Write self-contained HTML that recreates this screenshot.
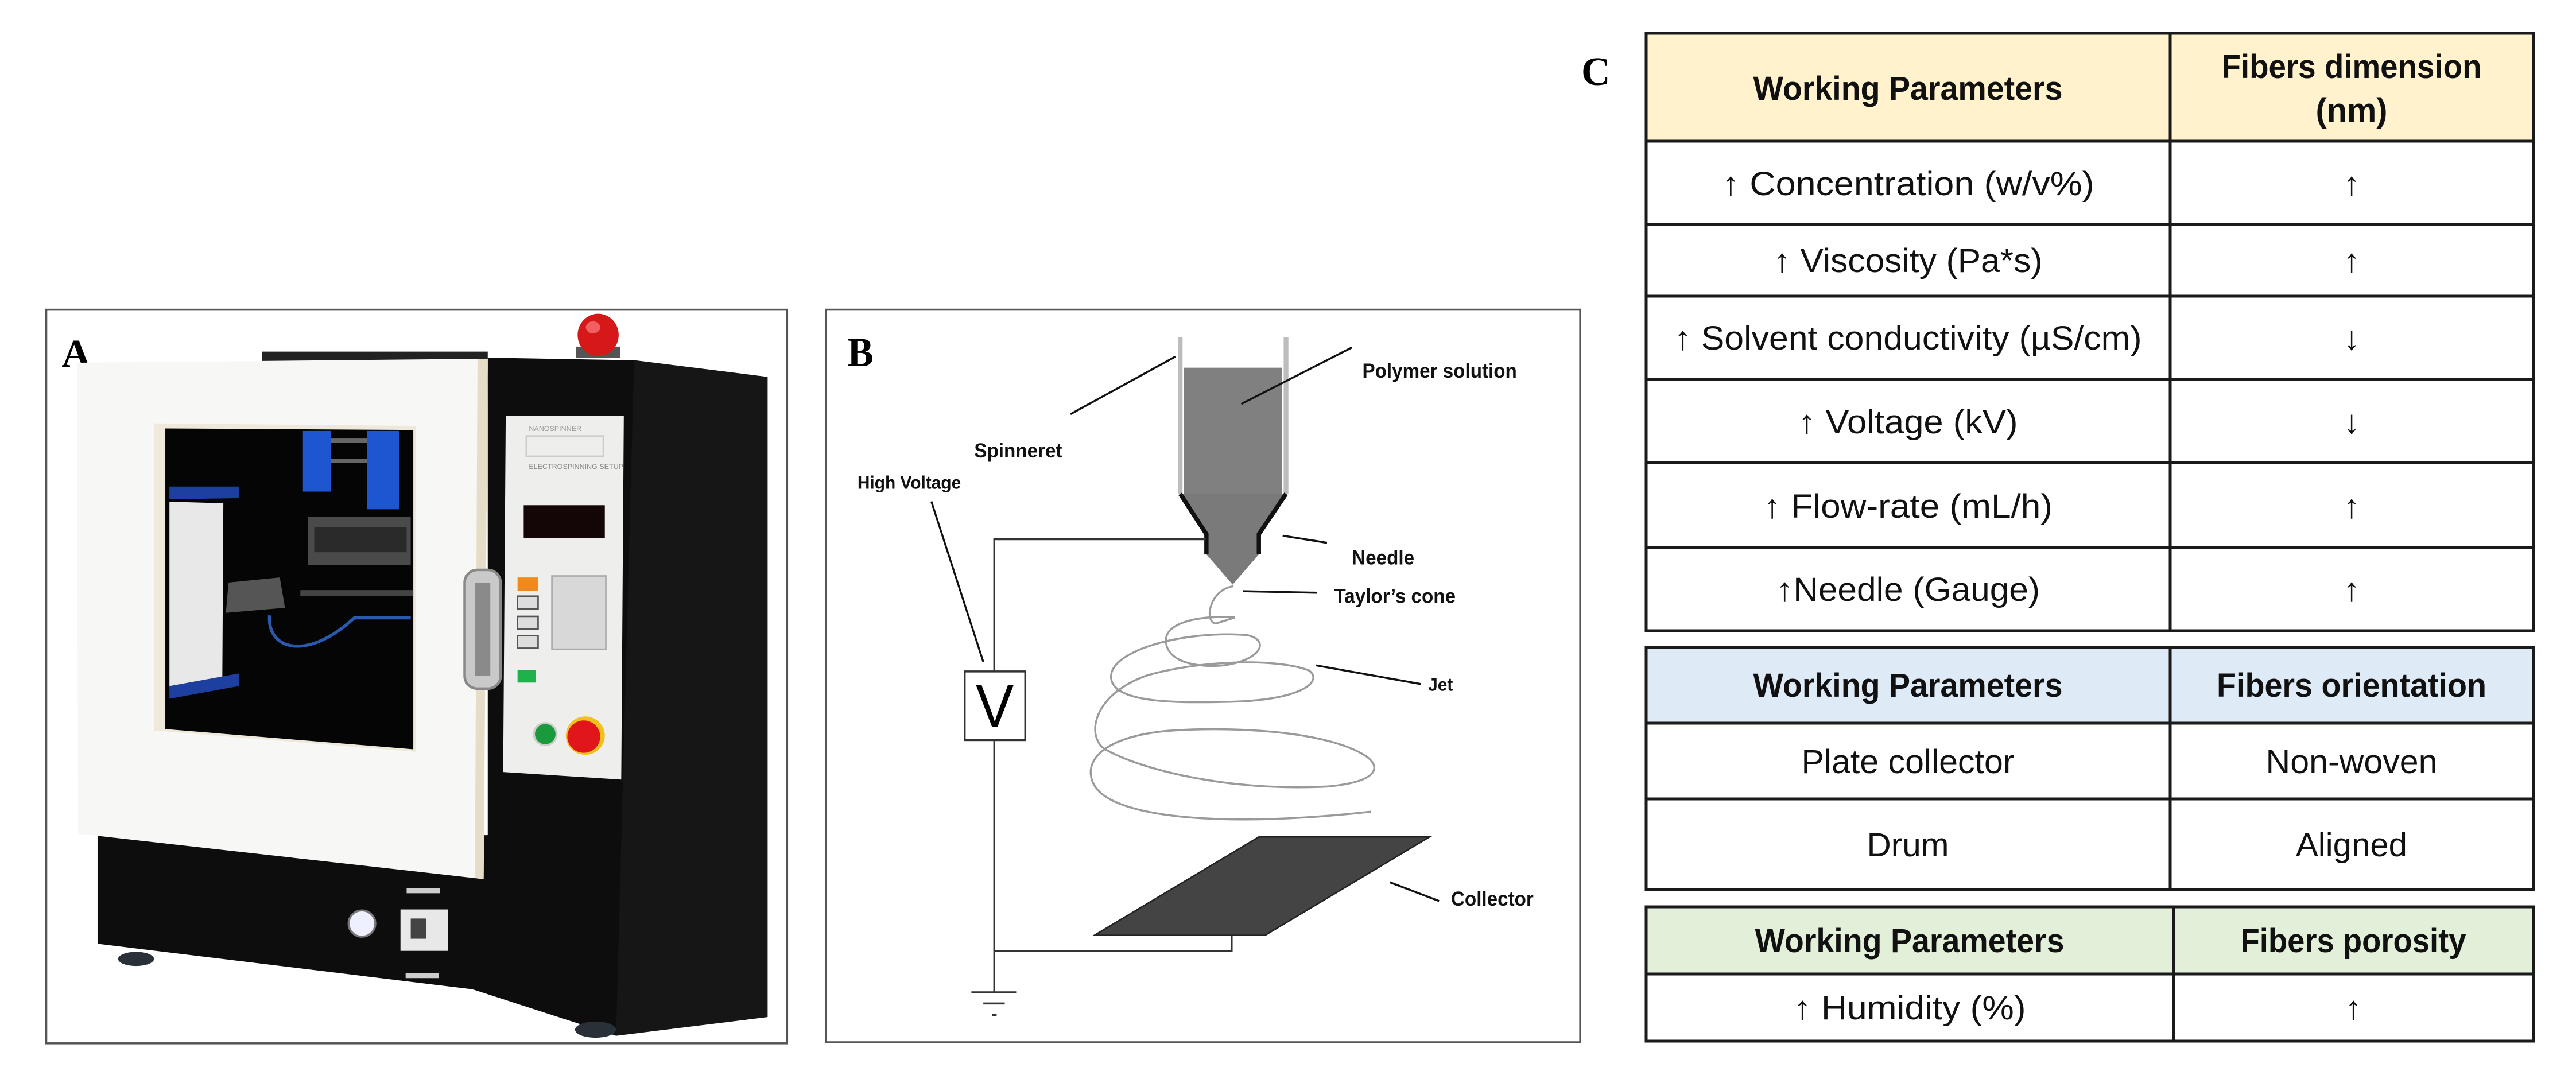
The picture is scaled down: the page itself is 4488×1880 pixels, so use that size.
<!DOCTYPE html>
<html><head><meta charset="utf-8"><style>
html,body{margin:0;padding:0;background:#fff;}
svg{display:block;}
</style></head><body>
<svg width="4488" height="1880" viewBox="0 0 4488 1880" xmlns="http://www.w3.org/2000/svg">
<rect width="4488" height="1880" fill="#fff"/>

<!-- Panel A -->
<g transform="translate(0,500) scale(0.8945,0.8803)">
  <rect x="90" y="45" width="1443" height="1452" fill="#fff" stroke="#555" stroke-width="4"/>
  <text x="120" y="158" font-family="Liberation Serif, serif" font-weight="bold" font-size="78">A</text>
  <polygon points="510,128 950,128 950,152 510,152" fill="#222"/>
  <rect x="1122" y="118" width="86" height="22" fill="#555"/>
  <ellipse cx="1165" cy="95" rx="40" ry="42" fill="#d61818"/>
  <ellipse cx="1155" cy="80" rx="14" ry="12" fill="#f06060"/>
  <polygon points="950,140 1235,145 1495,178 1495,1445 1200,1482 920,1390 190,1300 190,1085 950,1085" fill="#0d0d0d"/>
  <polygon points="1235,145 1495,178 1495,1445 1200,1482" fill="#161616"/>
  <ellipse cx="265" cy="1330" rx="35" ry="14" fill="#2a3038"/>
  <ellipse cx="1160" cy="1470" rx="40" ry="16" fill="#2a3038"/>
  <polygon points="150,150 950,142 942,1172 152,1082" fill="#f7f7f5"/>
  <polygon points="930,142 950,142 942,1172 925,1168" fill="#e6ddc8"/>
  <polygon points="300,270 810,275 810,920 300,878" fill="#efe9dc"/>
  <polygon points="322,280 805,283 805,915 322,875" fill="#050505"/>
  <polygon points="330,425 435,428 433,775 330,790" fill="#e8e8e8"/>
  <polygon points="330,395 465,395 465,418 330,420" fill="#1d3fa0"/>
  <polygon points="330,790 465,765 465,790 330,815" fill="#1d3fa0"/>
  <rect x="590" y="285" width="55" height="120" fill="#1e55d0"/>
  <rect x="715" y="285" width="62" height="155" fill="#1e55d0"/>
  <rect x="645" y="300" width="70" height="8" fill="#666"/>
  <rect x="645" y="340" width="70" height="8" fill="#666"/>
  <rect x="600" y="455" width="200" height="95" fill="#4a4a4a"/>
  <rect x="612" y="475" width="180" height="50" fill="#2a2a2a"/>
  <polygon points="445,585 545,575 555,635 440,645" fill="#555"/>
  <rect x="585" y="600" width="220" height="12" fill="#444"/>
  <path d="M525,650 C520,720 600,740 690,655 L800,655" stroke="#2a5ab0" stroke-width="6" fill="none"/>
  <rect x="905" y="560" width="70" height="235" rx="25" fill="#c9c9c9" stroke="#888" stroke-width="5"/>
  <rect x="925" y="585" width="30" height="185" fill="#8a8a8a"/>
  <polygon points="985,255 1215,255 1210,975 980,960" fill="#eeeeec"/>
  <text x="1030" y="285" font-family="Liberation Sans, sans-serif" font-size="14" fill="#999">NANOSPINNER</text>
  <rect x="1025" y="295" width="150" height="40" fill="none" stroke="#ccc" stroke-width="3"/>
  <text x="1030" y="360" font-family="Liberation Sans, sans-serif" font-size="14" fill="#888">ELECTROSPINNING SETUP</text>
  <rect x="1020" y="432" width="158" height="65" fill="#140606"/>
  <rect x="1008" y="575" width="40" height="27" fill="#f08a1c"/>
  <rect x="1008" y="612" width="40" height="25" fill="#ddd" stroke="#555" stroke-width="3"/>
  <rect x="1008" y="652" width="40" height="25" fill="#ddd" stroke="#555" stroke-width="3"/>
  <rect x="1008" y="690" width="40" height="25" fill="#ddd" stroke="#555" stroke-width="3"/>
  <rect x="1075" y="572" width="105" height="145" fill="#d8d8d8" stroke="#aaa" stroke-width="3"/>
  <rect x="1008" y="758" width="36" height="25" fill="#1fb24a"/>
  <circle cx="1062" cy="885" r="22" fill="#1a9a3c" stroke="#ccc" stroke-width="4"/>
  <circle cx="1140" cy="888" r="38" fill="#f2c21b"/>
  <circle cx="1137" cy="890" r="32" fill="#e0161b"/>
  <circle cx="705" cy="1260" r="26" fill="#eef0ff" stroke="#777" stroke-width="4"/>
  <rect x="780" y="1232" width="92" height="82" fill="#e8e8e8"/>
  <rect x="800" y="1250" width="30" height="40" fill="#444"/>
  <rect x="792" y="1190" width="65" height="10" fill="#ccc"/>
  <rect x="790" y="1358" width="65" height="10" fill="#ccc"/>
</g>

<!-- Panel B -->
<g transform="translate(1400,500) scale(0.8306,0.8791)">
  <rect x="47" y="45" width="1582" height="1452" fill="#fff" stroke="#555" stroke-width="4"/>
  <text x="92" y="157" font-family="Liberation Serif, serif" font-weight="bold" font-size="82">B</text>
  <rect x="798" y="160" width="206" height="252" fill="#808080"/>
  <line x1="790" y1="100" x2="790" y2="410" stroke="#bdbdbd" stroke-width="10"/>
  <line x1="1012" y1="100" x2="1012" y2="410" stroke="#bdbdbd" stroke-width="10"/>
  <polygon points="790,410 1012,410 955,490 955,530 900,590 845,530 845,490" fill="#7a7a7a"/>
  <polyline points="790,410 845,490 845,530" fill="none" stroke="#111" stroke-width="9"/>
  <polyline points="1012,410 955,490 955,530" fill="none" stroke="#111" stroke-width="9"/>
  <g stroke="#111" stroke-width="4">
    <line x1="560" y1="252" x2="780" y2="138"/>
    <line x1="918" y1="232" x2="1150" y2="120"/>
    <line x1="1005" y1="493" x2="1098" y2="507"/>
    <line x1="922" y1="603" x2="1077" y2="606"/>
    <line x1="1075" y1="750" x2="1295" y2="787"/>
    <line x1="1230" y1="1180" x2="1333" y2="1217"/>
    <line x1="268" y1="425" x2="377" y2="743"/>
  </g>
  <g stroke="#333" stroke-width="4" fill="none">
    <polyline points="845,500 400,500 400,762"/>
    <rect x="338" y="762" width="127" height="136" fill="#fff"/>
    <polyline points="400,898 400,1398"/>
    <polyline points="400,1316 898,1316 898,1285"/>
    <line x1="352" y1="1398" x2="446" y2="1398"/>
    <line x1="377" y1="1420" x2="422" y2="1420"/>
    <line x1="395" y1="1443" x2="405" y2="1443"/>
  </g>
  <text x="401" y="872" text-anchor="middle" font-family="Liberation Sans, sans-serif" font-size="120">V</text>
  <path d="M902,593 C850,600 840,665 865,667 L905,655 C830,650 760,665 760,700 C760,745 830,755 880,750 C960,740 980,700 930,690 C800,680 640,720 645,775 C650,825 780,825 900,822 C1050,818 1090,780 1060,760 C990,735 830,740 720,770 C600,810 590,900 640,920 C720,960 900,1000 1100,990 C1210,980 1210,950 1180,930 C1100,880 900,870 760,880 C600,895 580,960 620,1000 C680,1055 900,1070 1190,1040" fill="none" stroke="#9a9a9a" stroke-width="4"/>
  <polygon points="610,1285 955,1090 1313,1090 968,1285" fill="#444" stroke="#222" stroke-width="3"/>
  <g font-family="Liberation Sans, sans-serif" font-weight="bold" font-size="40" fill="#111">
    <text x="358" y="338">Spinneret</text>
    <text x="113" y="400" font-size="36">High Voltage</text>
    <text x="1172" y="180">Polymer solution</text>
    <text x="1150" y="550">Needle</text>
    <text x="1113" y="626">Taylor’s cone</text>
    <text x="1310" y="800" font-size="36">Jet</text>
    <text x="1358" y="1226">Collector</text>
  </g>
</g>

<!-- Panel C -->
<text x="2755" y="148" font-family="Liberation Serif, serif" font-weight="bold" font-size="70">C</text>
<g stroke="#1a1a1a" stroke-width="5">
  <rect x="2868" y="58" width="1546" height="188" fill="#FFF2CC"/>
  <rect x="2868" y="246" width="1546" height="853" fill="#fff"/>
  <line x1="3781" y1="58" x2="3781" y2="1099"/>
  <line x1="2868" y1="391" x2="4414" y2="391"/>
  <line x1="2868" y1="516" x2="4414" y2="516"/>
  <line x1="2868" y1="661" x2="4414" y2="661"/>
  <line x1="2868" y1="806" x2="4414" y2="806"/>
  <line x1="2868" y1="954" x2="4414" y2="954"/>
  <rect x="2868" y="1128" width="1546" height="132" fill="#DEEAF6"/>
  <rect x="2868" y="1260" width="1546" height="290" fill="#fff"/>
  <line x1="3781" y1="1128" x2="3781" y2="1550"/>
  <line x1="2868" y1="1392" x2="4414" y2="1392"/>
  <rect x="2868" y="1580" width="1546" height="117" fill="#E2EFD9"/>
  <rect x="2868" y="1697" width="1546" height="117" fill="#fff"/>
  <line x1="3787" y1="1580" x2="3787" y2="1814"/>
</g>
<g font-family="Liberation Sans, 'DejaVu Sans', sans-serif" font-size="58" fill="#111" text-anchor="middle">
  <g font-weight="bold">
    <text x="3324" y="174" textLength="539" lengthAdjust="spacingAndGlyphs">Working Parameters</text>
    <text x="4097" y="136" textLength="453" lengthAdjust="spacingAndGlyphs">Fibers dimension</text>
    <text x="4097" y="212" textLength="125" lengthAdjust="spacingAndGlyphs">(nm)</text>
    <text x="3324" y="1214" textLength="539" lengthAdjust="spacingAndGlyphs">Working Parameters</text>
    <text x="4097" y="1214" textLength="470" lengthAdjust="spacingAndGlyphs">Fibers orientation</text>
    <text x="3327" y="1659" textLength="539" lengthAdjust="spacingAndGlyphs">Working Parameters</text>
    <text x="4100" y="1659" textLength="393" lengthAdjust="spacingAndGlyphs">Fibers porosity</text>
  </g>
  <text x="3324" y="340" textLength="649" lengthAdjust="spacingAndGlyphs">↑ Concentration  (w/v%)</text>
  <text x="4097" y="340">↑</text>
  <text x="3324" y="474" textLength="469" lengthAdjust="spacingAndGlyphs">↑ Viscosity (Pa*s)</text>
  <text x="4097" y="474">↑</text>
  <text x="3324" y="609" textLength="815" lengthAdjust="spacingAndGlyphs">↑ Solvent conductivity (µS/cm)</text>
  <text x="4097" y="609">↓</text>
  <text x="3324" y="755" textLength="383" lengthAdjust="spacingAndGlyphs">↑ Voltage (kV)</text>
  <text x="4097" y="755">↓</text>
  <text x="3324" y="902" textLength="504" lengthAdjust="spacingAndGlyphs">↑ Flow-rate (mL/h)</text>
  <text x="4097" y="902">↑</text>
  <text x="3324" y="1047" textLength="460" lengthAdjust="spacingAndGlyphs">↑Needle (Gauge)</text>
  <text x="4097" y="1047">↑</text>
  <text x="3324" y="1347" textLength="371" lengthAdjust="spacingAndGlyphs">Plate collector</text>
  <text x="4097" y="1347" textLength="299" lengthAdjust="spacingAndGlyphs">Non-woven</text>
  <text x="3324" y="1492" textLength="143" lengthAdjust="spacingAndGlyphs">Drum</text>
  <text x="4097" y="1492" textLength="194" lengthAdjust="spacingAndGlyphs">Aligned</text>
  <text x="3327" y="1776" textLength="405" lengthAdjust="spacingAndGlyphs">↑ Humidity (%)</text>
  <text x="4100" y="1776">↑</text>
</g>
</svg>
</body></html>
